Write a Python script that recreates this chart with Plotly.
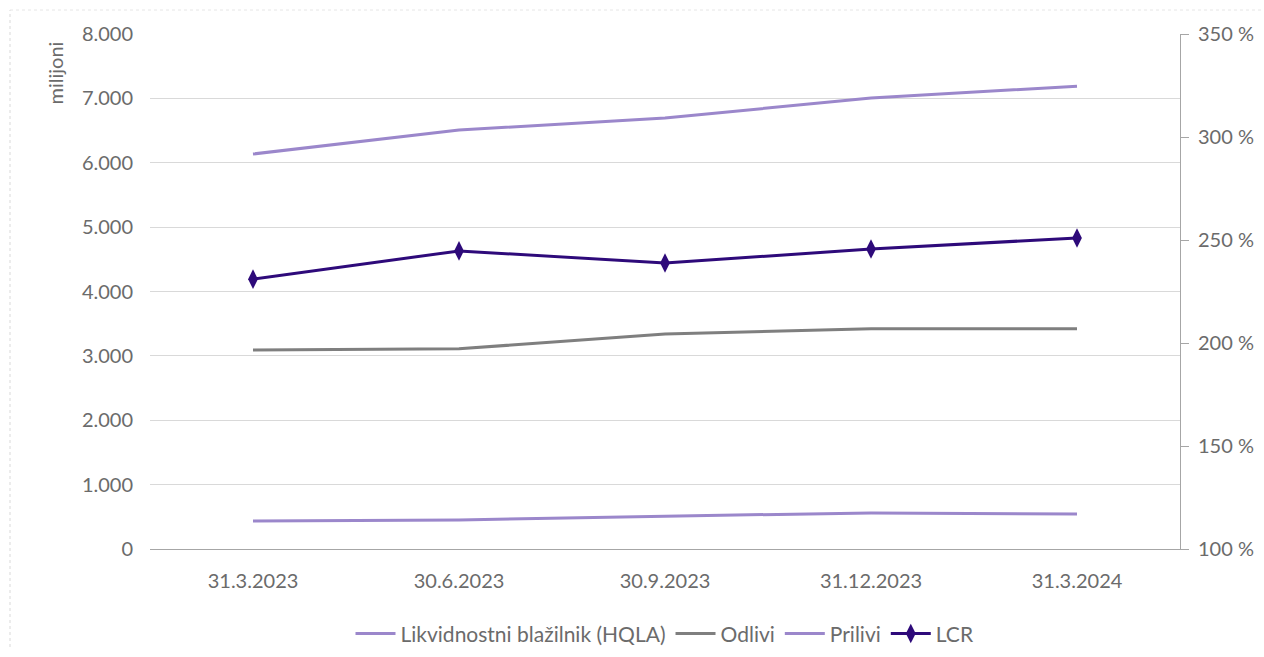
import plotly.graph_objects as go

categories = ["31.3.2023", "30.6.2023", "30.9.2023", "31.12.2023", "31.3.2024"]
hqla = [6136, 6509, 6695, 7006, 7190]
odlivi = [3090, 3110, 3340, 3420, 3420]
prilivi = [435, 450, 510, 560, 545]
lcr = [231, 244.7, 238.8, 245.6, 251]

left_ticks = [0, 1000, 2000, 3000, 4000, 5000, 6000, 7000, 8000]
left_labels = ["0", "1.000", "2.000", "3.000", "4.000", "5.000", "6.000", "7.000", "8.000"]
right_ticks = [100, 150, 200, 250, 300, 350]
right_labels = ["100 %", "150 %", "200 %", "250 %", "300 %", "350 %"]

FONT = "Lato, Open Sans, sans-serif"
TXT = "#6b6b6b"
FS = 20

fig = go.Figure()
fig.add_trace(go.Scatter(x=categories, y=hqla, name="Likvidnostni blažilnik (HQLA)",
                         mode="lines", line=dict(color="#9B87CB", width=3)))
fig.add_trace(go.Scatter(x=categories, y=odlivi, name="Odlivi",
                         mode="lines", line=dict(color="#7F7F7F", width=3)))
fig.add_trace(go.Scatter(x=categories, y=prilivi, name="Prilivi",
                         mode="lines", line=dict(color="#9B87CB", width=3)))
fig.add_trace(go.Scatter(x=categories, y=lcr, name="LCR", yaxis="y2",
                         mode="lines+markers", line=dict(color="#2E0A7A", width=3),
                         marker=dict(symbol="diamond-tall", size=14, color="#2E0A7A")))

fig.update_layout(
    width=1264, height=657,
    margin=dict(l=150, r=84, t=34, b=108, autoexpand=False),
    paper_bgcolor="white", plot_bgcolor="white",
    font=dict(family=FONT, size=FS, color=TXT),
    showlegend=True,
    legend=dict(orientation="h", x=0.5, xanchor="center", y=-0.125, yanchor="top",
                font=dict(family=FONT, size=21, color=TXT), itemwidth=40),
    xaxis=dict(showgrid=False, showline=True, linecolor="#A6A6A6", linewidth=1,
               ticks="", ticklabelstandoff=14, automargin=False,
               tickfont=dict(family=FONT, size=FS, color=TXT),
               range=[-0.5, 4.5]),
    yaxis=dict(range=[0, 8000], tickvals=left_ticks, ticktext=left_labels,
               showgrid=True, gridcolor="#D9D9D9", gridwidth=1, zeroline=False,
               showline=False, ticks="", ticklen=0, ticklabelstandoff=16,
               automargin=False,
               tickfont=dict(family=FONT, size=FS, color=TXT)),
    yaxis2=dict(range=[100, 350], tickvals=right_ticks, ticktext=right_labels,
                overlaying="y", side="right", showgrid=False, zeroline=False,
                showline=True, linecolor="#A6A6A6", linewidth=1,
                ticks="outside", ticklen=8, tickcolor="#A6A6A6",
                ticklabelstandoff=5, automargin=False,
                tickfont=dict(family=FONT, size=FS, color=TXT)),
)

fig.add_annotation(text="milijoni", xref="paper", yref="paper",
                   x=(55 - 150) / 1030, y=(549 - 40) / 515, xanchor="center", yanchor="top",
                   textangle=-90, showarrow=False,
                   font=dict(family=FONT, size=FS, color=TXT))

# light chart-area frame (left and top edges)
fig.add_shape(type="line", xref="paper", yref="paper",
              x0=(10 - 150) / 1030, x1=(10 - 150) / 1030, y0=-(647 - 549) / 515, y1=(549 - 10) / 515,
              line=dict(color="#D9D9D9", width=1, dash="dot"))
fig.add_shape(type="line", xref="paper", yref="paper",
              x0=(10 - 150) / 1030, x1=(1264 - 150) / 1030, y0=(549 - 10) / 515, y1=(549 - 10) / 515,
              line=dict(color="#E6E6E6", width=1, dash="dot"))

fig.write_html("out.html")
